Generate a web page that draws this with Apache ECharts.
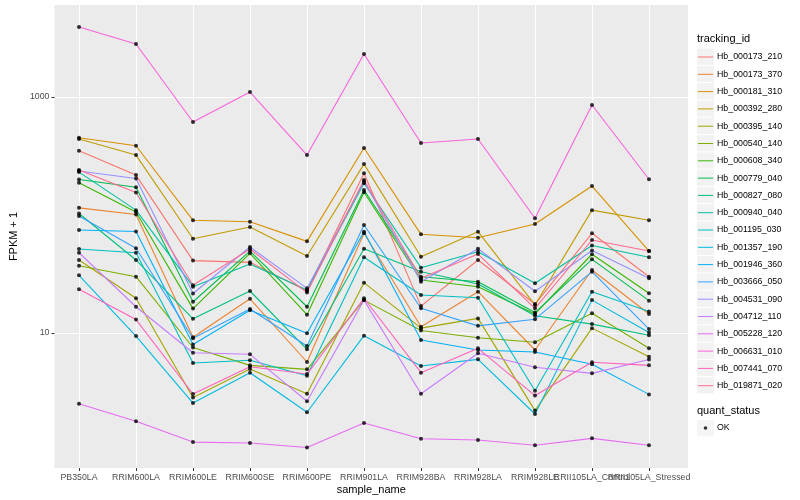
<!DOCTYPE html>
<html>
<head>
<meta charset="utf-8">
<script src="https://cdn.jsdelivr.net/npm/echarts@6/dist/echarts.min.js"></script>
<style>html,body{margin:0;padding:0;background:#fff;}#chart{width:800px;height:500px;}</style>
</head>
<body>
<div id="chart"></div>
<script>
const categories = ['PB350LA','RRIM600LA','RRIM600LE','RRIM600SE','RRIM600PE','RRIM901LA','RRIM928BA','RRIM928LA','RRIM928LE','RRII105LA_Control','RRII105LA_Stressed'];
const trackingIds = ['Hb_000173_210','Hb_000173_370','Hb_000181_310','Hb_000392_280','Hb_000395_140','Hb_000540_140','Hb_000608_340','Hb_000779_040','Hb_000827_080','Hb_000940_040','Hb_001195_030','Hb_001357_190','Hb_001946_360','Hb_003666_050','Hb_004531_090','Hb_004712_110','Hb_005228_120','Hb_006631_010','Hb_007441_070','Hb_019871_020'];
const colors = ['#F8766D','#EA8331','#D89000','#C09B00','#A3A500','#7CAE00','#39B600','#00BB4E','#00BF7D','#00C1A3','#00BFC4','#00BAE0','#00B0F6','#35A2FF','#9590FF','#C77CFF','#E76BF3','#FA62DB','#FF62BC','#FF6C91'];
const yTickLabels = [10, 1000];
const quantStatus = ['OK'];

// FPKM + 1 values per tracking_id, in category order
const Hb_000173_210 = [351, 218, 41.1, 39.7, 22.7, 226, 16.9, 41.6, 17.6, 70.0, 30.0];
const Hb_000173_370 = [115, 101, 9.2, 19.5, 5.68, 70.0, 11.3, 22.4, 7.18, 34.2, 14.5];
const Hb_000181_310 = [452, 386, 90.2, 87.7, 59.8, 370, 68.6, 64.2, 83.9, 176, 49.5];
const Hb_000392_280 = [441, 322, 63.0, 79.1, 44.9, 270, 44.3, 72.2, 17.3, 110, 90.2];
const Hb_000395_140 = [41.6, 19.7, 2.84, 4.95, 3.06, 26.7, 11.0, 13.3, 2.20, 11.0, 6.30];
const Hb_000540_140 = [37.2, 30.0, 7.54, 5.32, 4.92, 19.0, 10.5, 9.12, 8.34, 14.7, 7.42];
const Hb_000608_340 = [188, 106, 16.1, 47.4, 14.3, 156, 28.1, 24.7, 14.5, 46.5, 21.7];
const Hb_000779_040 = [200, 172, 18.4, 49.5, 16.7, 163, 30.0, 27.2, 14.9, 42.1, 18.8];
const Hb_000827_080 = [103, 41.6, 13.2, 22.7, 7.28, 51.8, 33.1, 26.0, 14.0, 11.9, 9.56];
const Hb_000940_040 = [231, 110, 24.7, 38.4, 23.1, 186, 35.8, 48.9, 26.4, 55.2, 43.8];
const Hb_001195_030 = [51.5, 47.9, 5.57, 5.87, 4.35, 43.8, 21.0, 19.9, 3.24, 22.4, 15.2];
const Hb_001357_190 = [30.8, 9.43, 2.55, 4.61, 2.13, 9.49, 5.25, 5.98, 2.06, 19.0, 10.1];
const Hb_001946_360 = [74.6, 72.5, 8.0, 15.6, 9.94, 72.2, 8.72, 7.18, 6.90, 5.43, 3.02];
const Hb_003666_050 = [98.1, 52.2, 9.02, 16.0, 7.76, 82.2, 16.2, 11.5, 13.1, 33.1, 10.8];
const Hb_004531_090 = [236, 204, 21.6, 53.6, 23.9, 192, 27.2, 51.8, 22.6, 50.0, 29.1];
const Hb_004712_110 = [47.9, 16.7, 6.81, 6.60, 2.64, 19.0, 3.06, 6.73, 5.12, 4.55, 5.96];
const Hb_005228_120 = [2.52, 1.79, 1.19, 1.17, 1.07, 1.73, 1.27, 1.24, 1.12, 1.28, 1.12];
const Hb_006631_010 = [3917, 2812, 614, 1102, 322, 2312, 407, 441, 93.8, 855, 201];
const Hb_007441_070 = [23.5, 13.0, 3.04, 5.18, 4.49, 19.7, 4.61, 7.42, 2.95, 5.65, 5.32];
const Hb_019871_020 = [241, 155, 25.4, 51.5, 22.0, 198, 29.1, 46.7, 16.2, 61.4, 49.5];

const seriesValues = [Hb_000173_210, Hb_000173_370, Hb_000181_310, Hb_000392_280, Hb_000395_140, Hb_000540_140, Hb_000608_340, Hb_000779_040, Hb_000827_080, Hb_000940_040, Hb_001195_030, Hb_001357_190, Hb_001946_360, Hb_003666_050, Hb_004531_090, Hb_004712_110, Hb_005228_120, Hb_006631_010, Hb_007441_070, Hb_019871_020];

const FONT = 'Liberation Sans, Arial, Helvetica, sans-serif';
const Y_MIN = 0.718, Y_MAX = 6021;

const chart = echarts.init(document.getElementById('chart'), null, {renderer: 'canvas'});

const lineSeries = trackingIds.map((id, k) => ({
  name: id, type: 'line', xAxisIndex: 1, yAxisIndex: 1,
  data: seriesValues[k], showSymbol: false, symbol: 'none',
  color: colors[k], lineStyle: {width: 1.1, color: colors[k]},
  silent: true, animation: false, z: 2
}));

const pointData = [];
seriesValues.forEach(vals => vals.forEach((v, i) => pointData.push([i, v])));

const keyLine = 'path://M0,0M17,17M1,8H16V9H1Z';
const keyDot = 'path://M0,0M17,17M10.3,8.5A1.8,1.8,0,1,1,6.7,8.5A1.8,1.8,0,1,1,10.3,8.5Z';

const option = {
  backgroundColor: '#fff',
  animation: false,
  textStyle: {fontFamily: FONT},
  title: [
    {text: 'tracking_id', left: 697, top: 33, padding: 0, textStyle: {fontSize: 11, fontWeight: 'normal', color: '#000', fontFamily: FONT}},
    {text: 'quant_status', left: 697, top: 405, padding: 0, textStyle: {fontSize: 11, fontWeight: 'normal', color: '#000', fontFamily: FONT}}
  ],
  grid: [
    {left: 45, top: 5, width: 643, height: 463, show: true, backgroundColor: '#EBEBEB', borderWidth: 0, containLabel: false},
    {left: 79, top: 5, width: 570, height: 463, containLabel: false}
  ],
  xAxis: [
    {gridIndex: 0, type: 'value', min: 0, max: 1,
     axisLine: {show: false}, axisTick: {show: false}, axisLabel: {show: false}, splitLine: {show: false},
     name: 'sample_name', nameLocation: 'middle', nameGap: 16,
     nameTextStyle: {fontSize: 11, color: '#000', fontFamily: FONT}},
    {gridIndex: 1, type: 'category', data: categories, boundaryGap: false,
     axisLine: {show: false},
     axisTick: {show: true, interval: 0, length: 3, lineStyle: {color: '#333333', width: 1}},
     axisLabel: {interval: 0, margin: 5, fontSize: 8.8, color: '#4D4D4D', fontFamily: FONT},
     splitLine: {show: true, interval: 0, lineStyle: {color: '#FFFFFF', width: 1}}}
  ],
  yAxis: [
    {gridIndex: 0, type: 'log', logBase: 10, min: Y_MIN, max: Y_MAX,
     axisLine: {show: false},
     axisTick: {show: true, length: 3, customValues: yTickLabels, lineStyle: {color: '#333333', width: 1}},
     axisLabel: {customValues: yTickLabels, margin: 5, fontSize: 8.8, color: '#4D4D4D', fontFamily: FONT,
                 formatter: v => (yTickLabels.indexOf(Math.round(v)) >= 0 ? String(Math.round(v)) : '')},
     splitLine: {show: true, lineStyle: {color: '#FFFFFF', width: 1}},
     name: 'FPKM + 1', nameLocation: 'middle', nameGap: 27,
     nameTextStyle: {fontSize: 11, color: '#000', fontFamily: FONT}},
    {gridIndex: 1, type: 'log', logBase: 10, min: Y_MIN, max: Y_MAX, show: false,
     axisLine: {show: false}, axisTick: {show: false}, axisLabel: {show: false}, splitLine: {show: false}}
  ],
  legend: [
    {data: trackingIds, orient: 'vertical', left: 697, top: 48.5, padding: 0,
     itemWidth: 17, itemHeight: 16.3, itemGap: 1, icon: 'rect', selectedMode: false,
     itemStyle: {color: '#F2F2F2', borderWidth: 0}, formatter: () => '', textStyle: {fontSize: 8.8}},
    {data: trackingIds, orient: 'vertical', left: 697, top: 48.5, padding: 0,
     itemWidth: 17, itemHeight: 17, itemGap: 0.3, icon: keyLine, selectedMode: false,
     itemStyle: {borderWidth: 0}, textStyle: {fontSize: 8.8, color: '#000', fontFamily: FONT, padding: [0, 0, 0, -2]}},
    {data: quantStatus, orient: 'vertical', left: 697, top: 420, padding: 0,
     itemWidth: 17, itemHeight: 16.3, itemGap: 1, icon: 'rect', selectedMode: false,
     itemStyle: {color: '#F2F2F2', borderWidth: 0}, formatter: () => '', textStyle: {fontSize: 8.8}},
    {data: quantStatus, orient: 'vertical', left: 697, top: 419.5, padding: 0,
     itemWidth: 17, itemHeight: 17, itemGap: 0.3, icon: keyDot, selectedMode: false,
     itemStyle: {color: '#000', borderWidth: 0}, textStyle: {fontSize: 8.8, color: '#000', fontFamily: FONT, padding: [0, 0, 0, -2]}}
  ],
  series: lineSeries.concat([{
    name: quantStatus[0], type: 'scatter', xAxisIndex: 1, yAxisIndex: 1,
    data: pointData, symbol: 'circle', symbolSize: 4,
    itemStyle: {color: '#000'}, color: '#000', silent: true, animation: false, z: 3
  }])
};
chart.setOption(option);
</script>
</body>
</html>
